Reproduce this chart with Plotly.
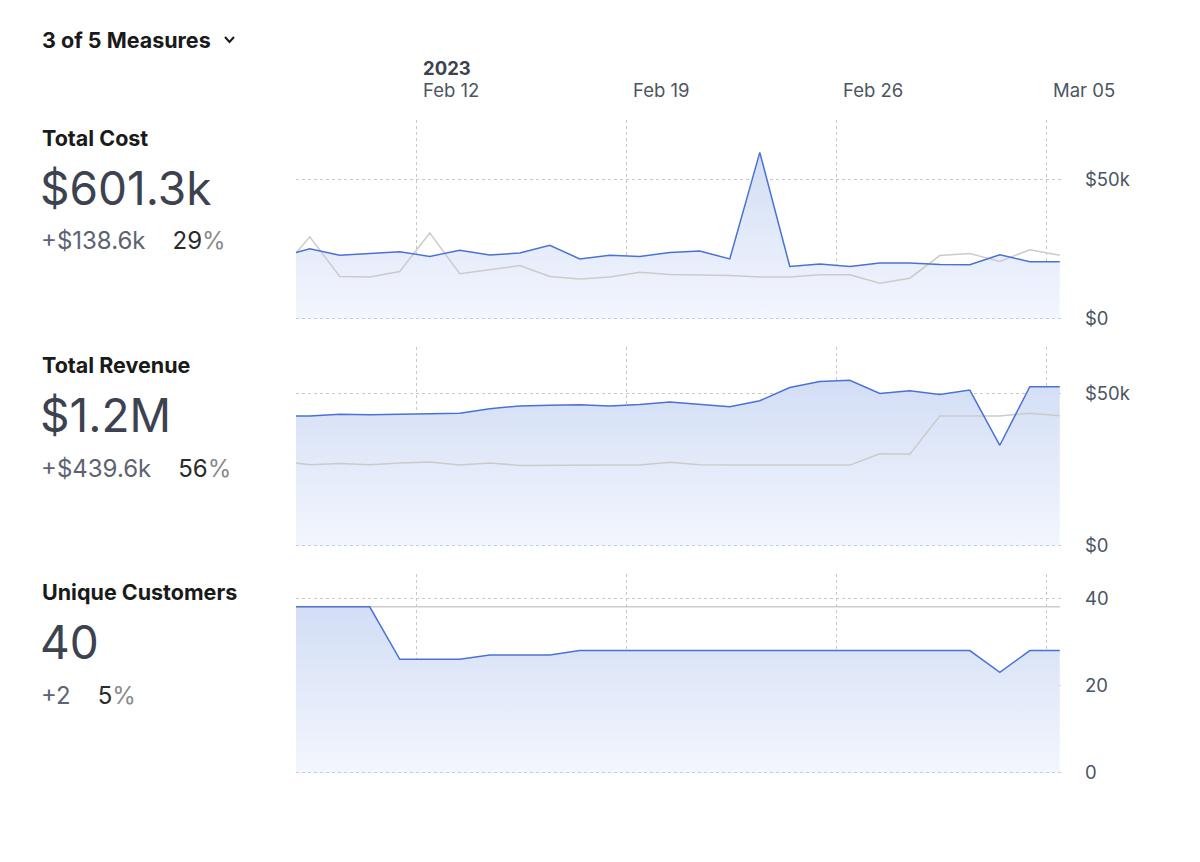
import plotly.graph_objects as go

# ---------------- data ----------------
dates = ["2023-02-08 00:00",
         "2023-02-08 11:00", "2023-02-09 11:00", "2023-02-10 11:00", "2023-02-11 11:00",
         "2023-02-12 11:00", "2023-02-13 11:00", "2023-02-14 11:00", "2023-02-15 11:00",
         "2023-02-16 11:00", "2023-02-17 11:00", "2023-02-18 11:00", "2023-02-19 11:00",
         "2023-02-20 11:00", "2023-02-21 11:00", "2023-02-22 11:00", "2023-02-23 11:00",
         "2023-02-24 11:00", "2023-02-25 11:00", "2023-02-26 11:00", "2023-02-27 11:00",
         "2023-02-28 11:00", "2023-03-01 11:00", "2023-03-02 11:00", "2023-03-03 11:00",
         "2023-03-04 11:00", "2023-03-05 11:00"]

cost_current = [23.8, 25.1, 22.8, 23.4, 24.1, 22.4, 24.6, 22.9, 23.6, 26.4, 21.5, 22.8, 22.4,
                23.8, 24.3, 21.5, 59.6, 18.8, 19.7, 18.8, 20.0, 20.0, 19.5, 19.4, 23.0, 20.5, 20.5]
cost_previous = [23.6, 29.4, 15.2, 15.0, 17.0, 30.8, 16.2, 17.6, 19.1, 15.2, 14.3, 15.0, 16.7,
                 15.9, 15.8, 15.6, 15.0, 15.0, 15.8, 15.8, 12.8, 14.6, 22.7, 23.4, 20.6, 24.8, 22.8]

revenue_current = [42.6, 42.6, 43.2, 43.0, 43.2, 43.4, 43.5, 45.0, 45.9, 46.1, 46.3, 45.9, 46.4,
                   47.2, 46.5, 45.6, 47.6, 51.9, 53.9, 54.3, 50.0, 50.9, 49.6, 51.1, 33.0, 52.2, 52.2]
revenue_previous = [27.2, 26.6, 27.0, 26.6, 27.2, 27.5, 26.5, 27.2, 26.4, 26.5, 26.5, 26.5, 26.5,
                    27.4, 26.6, 26.5, 26.5, 26.5, 26.5, 26.5, 30.2, 30.1, 42.6, 42.6, 42.6, 43.5, 42.7]

customers_current = [38, 38, 38, 38, 26, 26, 26, 27, 27, 27, 28, 28, 28,
                     28, 28, 28, 28, 28, 28, 28, 28, 28, 28, 28, 23, 28, 28]
customers_previous = [38] * 27

x_range = ["2023-02-08 00:00", "2023-03-05 12:45"]
tick_dates = ["2023-02-12", "2023-02-19", "2023-02-26", "2023-03-05"]
tick_labels = ["Feb 12", "Feb 19", "Feb 26", "Mar 05"]
year_label = "2023"

measure_names = ["Total Cost", "Total Revenue", "Unique Customers"]
measure_totals = ["$601.3k", "$1.2M", "40"]
measure_deltas = ["+$138.6k", "+$439.6k", "+2"]
measure_pcts = ["29", "56", "5"]

y_ticks = [[0, 50], [0, 50], [0, 20, 40]]
y_ticktext = [["$0", "$50k"], ["$0", "$50k"], ["0", "20", "40"]]
y_ranges = [[0, 71.2], [0, 65.2], [0, 45.5]]

series = [(cost_current, cost_previous), (revenue_current, revenue_previous),
          (customers_current, customers_previous)]

# ---------------- layout helpers ----------------
W, H = 1200, 862
FONT = "Inter"
x_dom = [296 / W, 1062 / W]
panels_px = [(120, 319), (347, 546), (574, 773)]
label_rows = [(138, 188, 241), (365, 415, 468), (592, 642, 695)]

def py(v):
    return 1 - v / H

fig = go.Figure()
layout = dict(width=W, height=H, autosize=False, margin=dict(l=0, r=0, t=0, b=0),
              paper_bgcolor="white", plot_bgcolor="rgba(0,0,0,0)", showlegend=False,
              font=dict(family=FONT, color="#4b5563", size=16))
annotations = []
shapes = []

for i, (cur, prev) in enumerate(series):
    n = "" if i == 0 else str(i + 1)
    xa, ya = "x" + n, "y" + n
    top_val = y_ranges[i][1]
    # gradient area under current period
    fig.add_trace(go.Scatter(x=dates, y=cur, mode="lines", xaxis=xa, yaxis=ya,
                             line=dict(width=0, color="rgba(0,0,0,0)"), fill="tozeroy",
                             fillgradient=dict(type="vertical", start=0, stop=top_val,
                                               colorscale=[[0, "#f3f6fd"], [1, "#ccd9f4"]]),
                             hoverinfo="skip"))
    # previous period line
    fig.add_trace(go.Scatter(x=dates, y=prev, mode="lines", xaxis=xa, yaxis=ya,
                             line=dict(color="#cbcbcb", width=1.5), hoverinfo="skip"))
    # current period line
    fig.add_trace(go.Scatter(x=dates, y=cur, mode="lines", xaxis=xa, yaxis=ya,
                             line=dict(color="#4a72d6", width=1.5), hoverinfo="skip"))
    t, b = panels_px[i]
    layout["xaxis" + n] = dict(domain=x_dom, anchor=ya, type="date", range=x_range,
                               tickvals=tick_dates, showticklabels=False, showgrid=True,
                               gridcolor="#c8c8c8", griddash="dot", gridwidth=1,
                               zeroline=False, showline=False, ticks="")
    layout["yaxis" + n] = dict(domain=[py(b), py(t)], anchor=xa, side="right", range=y_ranges[i],
                               tickvals=y_ticks[i], ticktext=y_ticktext[i], showgrid=True,
                               gridcolor="#c8c8c8", griddash="dot", gridwidth=1, zeroline=False,
                               showline=False, ticks="", ticklabelstandoff=22, automargin=False,
                               tickfont=dict(size=18.5, color="#4b5563", family=FONT))
    # baseline
    shapes.append(dict(type="line", xref=xa + " domain", yref=ya, x0=0, x1=1, y0=0, y1=0,
                       line=dict(color="#a9c0ef", width=1.5, dash="dot"), layer="above"))
    # left labels
    r1, r2, r3 = label_rows[i]
    annotations.append(dict(text="<b>" + measure_names[i] + "</b>", xref="paper", yref="paper",
                            x=40 / W, y=py(r1), xanchor="left", yanchor="middle", showarrow=False,
                            font=dict(size=21.5, color="#1a1a1a", family=FONT)))
    annotations.append(dict(text=measure_totals[i], xref="paper", yref="paper",
                            x=38 / W, y=py(r2), xanchor="left", yanchor="middle", showarrow=False,
                            font=dict(size=46, color="#3d4250", family=FONT)))
    annotations.append(dict(text=measure_deltas[i] + "    <span style='color:#2b2b2b'>" + measure_pcts[i]
                            + "</span><span style='color:#8a8a8a'>%</span>",
                            xref="paper", yref="paper", x=39 / W, y=py(r3), xanchor="left",
                            yanchor="middle", showarrow=False,
                            font=dict(size=24, color="#5d6372", family=FONT)))

# top date labels
for d, lab in zip(tick_dates, tick_labels):
    annotations.append(dict(text=lab, xref="x", yref="paper", x=d, y=py(90), xanchor="left",
                            yanchor="middle", xshift=5, showarrow=False,
                            font=dict(size=18.5, color="#4b5563", family=FONT)))
annotations.append(dict(text="<b>" + year_label + "</b>", xref="x", yref="paper", x=tick_dates[0],
                        y=py(68), xanchor="left", yanchor="middle", xshift=5, showarrow=False,
                        font=dict(size=18.5, color="#3d4250", family=FONT)))
# header
annotations.append(dict(text="<b>3 of 5 Measures</b>", xref="paper", yref="paper", x=40 / W,
                        y=py(40), xanchor="left", yanchor="middle", showarrow=False,
                        font=dict(size=21.5, color="#1a1a1a", family=FONT)))
shapes.append(dict(type="path", xref="paper", yref="paper",
                   path=f"M {225/W} {py(37)} L {229.5/W} {py(42)} L {234/W} {py(37)}",
                   line=dict(color="#1a1a1a", width=2)))

layout["annotations"] = annotations
layout["shapes"] = shapes
fig.update_layout(**layout)
fig.write_html("out.html")
